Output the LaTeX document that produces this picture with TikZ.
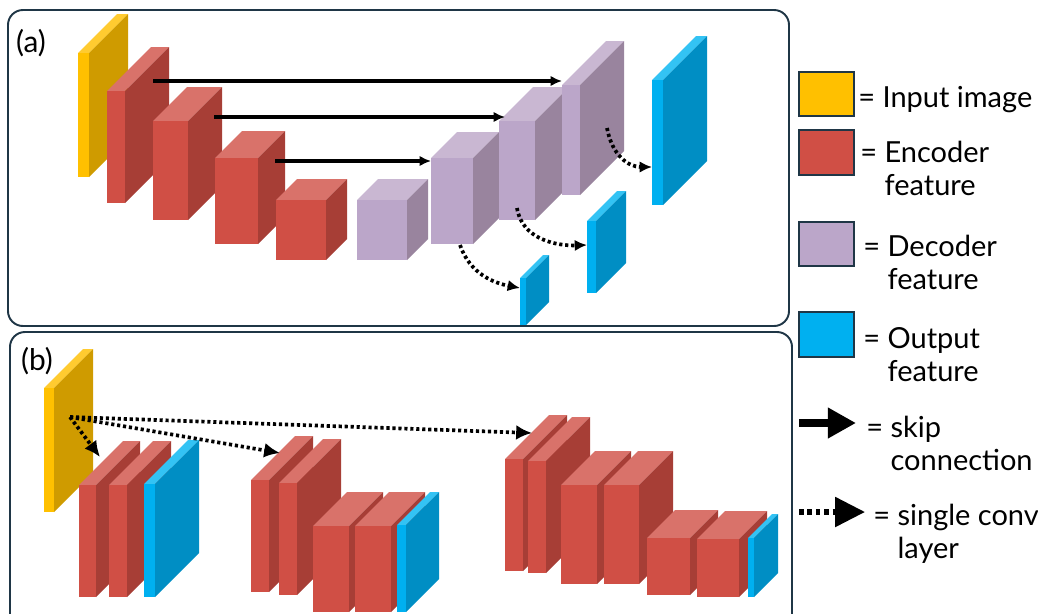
\documentclass[tikz,border=0pt]{standalone}
\usepackage{fontspec}
\setmainfont{Lato}
\usetikzlibrary{arrows.meta}

\definecolor{framecol}{HTML}{1F3646}
\definecolor{inpfront}{HTML}{FFC000}
\definecolor{inpside}{HTML}{CF9B00}
\definecolor{inptop}{HTML}{FFCB30}
\definecolor{encfront}{HTML}{D04F45}
\definecolor{encside}{HTML}{A73E36}
\definecolor{enctop}{HTML}{D9726A}
\definecolor{decfront}{HTML}{BBA6C9}
\definecolor{decside}{HTML}{99849E}
\definecolor{dectop}{HTML}{C9B7D2}
\definecolor{outfront}{HTML}{00B0F0}
\definecolor{outside}{HTML}{008EC4}
\definecolor{outtop}{HTML}{33C3F4}

% feature block: #1 colour set, (#2,#3) front top left,
% (#4,#5) front bottom right, #6 depth of the slant
\newcommand{\featmap}[6]{%
    \fill[#1top] (#2,#3) -- ({#2+#6},{#3-#6}) -- ({#4+#6},{#3-#6})
        -- (#4,#3) -- cycle;
    \fill[#1side] (#4,#3) -- ({#4+#6},{#3-#6}) -- ({#4+#6},{#5-#6})
        -- (#4,#5) -- cycle;
    \fill[#1front] (#2,#3) rectangle (#4,#5);
}

\begin{document}
\begin{tikzpicture}[x=0.02cm,y=-0.02cm,
    frame/.style={draw=framecol,line width=1.1pt,rounded corners=8.5pt},
    skip/.style={line width=2.2pt,-{Latex[length=6.5pt,width=6pt]}},
    conv/.style={line width=2.1pt,dash pattern=on 1.8pt off 1.6pt,
        -{Latex[length=7pt,width=6.5pt]}},
    bigconv/.style={line width=2.1pt,dash pattern=on 1.8pt off 1.6pt,
        -{Latex[length=9pt,width=8.5pt]}},
    key/.style={anchor=base west,align=left,inner sep=0pt,
        font=\fontsize{16.5}{18.7}\selectfont},
    tag/.style={font=\fontsize{17}{19}\selectfont}]
    \useasboundingbox (0,0) rectangle (1038,613);
    \clip (0,0) rectangle (1038,613);

    % Panel (a): encoder going down, decoder coming back up, with the
    % side outputs of the decoder below it.
    \draw[frame] (8,10) rectangle (789,326);
    \node[tag] (taga) at (31,43) {(a)};

    \featmap{inp}{78}{53}{89}{177}{39}
    \featmap{enc}{107}{91}{125}{203}{44}
    \featmap{enc}{153}{121}{188}{220}{34}
    \featmap{enc}{215}{158}{258}{244}{27}
    \featmap{enc}{276}{200}{326}{260}{21}
    \featmap{dec}{357}{200}{407}{260}{21}
    \featmap{dec}{431}{158}{473}{244}{26}
    \featmap{dec}{499}{121}{535}{220}{34}
    \featmap{dec}{562}{85}{580}{195}{44}
    \featmap{out}{652}{80}{663}{205}{44}
    \featmap{out}{587}{221}{596}{293}{30}
    \featmap{out}{520}{278}{526}{325}{23}

    \coordinate (enc1) at (153,81);
    \coordinate (enc2) at (214,117);
    \coordinate (enc3) at (275,161);
    \coordinate (dec4) at (562,81);
    \coordinate (dec3) at (505,117);
    \coordinate (dec2) at (431,161);
    \draw[skip] (enc1) -- (dec4);
    \draw[skip] (enc2) -- (dec3);
    \draw[skip] (enc3) -- (dec2);

    \coordinate (dec4b) at (607,128);
    \coordinate (dec3b) at (517,208);
    \coordinate (dec2b) at (460,245);
    \coordinate (out1) at (652,167);
    \coordinate (out2) at (587,245);
    \coordinate (out3) at (520,288);
    \draw[conv] (dec4b) .. controls (612,155) and (628,167) .. (out1);
    \draw[conv] (dec3b) .. controls (522,240) and (558,246) .. (out2);
    \draw[conv] (dec2b) .. controls (470,274) and (494,283) .. (out3);

    % Panel (b): three plain encoders of growing depth fed from the input
    \draw[frame] (10,332) rectangle (792,640);
    \node[tag] (tagb) at (37,361) {(b)};

    \featmap{inp}{44}{388}{54}{512}{39}

    \featmap{enc}{79}{485}{96}{597}{44}
    \featmap{enc}{109}{485}{127}{597}{44}
    \featmap{out}{144}{484}{155}{597}{44}

    \featmap{enc}{251}{480}{269}{592}{44}
    \featmap{enc}{279}{483}{297}{595}{44}
    \featmap{enc}{313}{526}{349}{612}{34}
    \featmap{enc}{355}{526}{391}{612}{34}
    \featmap{out}{397}{525}{406}{612}{33}

    \featmap{enc}{505}{459}{523}{571}{44}
    \featmap{enc}{528}{461}{546}{573}{44}
    \featmap{enc}{561}{485}{597}{584}{34}
    \featmap{enc}{604}{485}{639}{584}{34}
    \featmap{enc}{647}{538}{690}{595}{28}
    \featmap{enc}{697}{539}{739}{597}{28}
    \featmap{out}{748}{538}{754}{597}{24}

    \coordinate (img) at (70,417);
    \coordinate (net1) at (100,457);
    \coordinate (net2) at (280,453);
    \coordinate (net3) at (532,433);
    \draw[bigconv] (img) -- (net1);
    \draw[bigconv] (img) -- (net2);
    \draw[bigconv] (img) -- (net3);

    % Legend
    \draw[framecol,line width=0.9pt,fill=inpfront] (799,72) rectangle (854,116);
    \draw[framecol,line width=0.9pt,fill=encfront] (799,130) rectangle (854,175);
    \draw[framecol,line width=0.9pt,fill=decfront] (799,222) rectangle (854,266);
    \draw[framecol,line width=0.9pt,fill=outfront] (799,312) rectangle (854,357);
    \node[key] (kinp) at (858,107) {= Input image};
    \node[key] (kenc) at (860,195) {= Encoder\\\phantom{= }feature};
    \node[key] (kdec) at (863,289) {= Decoder\\\phantom{= }feature};
    \node[key] (kout) at (863,381) {= Output\\\phantom{= }feature};

    \coordinate (skipa) at (799,423);
    \coordinate (skipb) at (856,423);
    \draw[line width=4pt,-{Triangle[length=16pt,width=16.5pt]}] (skipa) -- (skipb);
    \node[key] (kskip) at (866,470) {= skip\\\phantom{= }connection};

    \coordinate (conva) at (799,512);
    \coordinate (convb) at (865,512);
    \draw[line width=3pt,dash pattern=on 2.6pt off 2.2pt,
        -{Triangle[length=17pt,width=16.5pt]}] (conva) -- (convb);
    \node[key] (kconv) at (873,558) {= single conv\\\phantom{= }layer};
\end{tikzpicture}
\end{document}
